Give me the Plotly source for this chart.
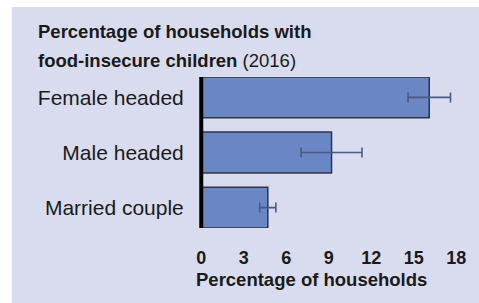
import plotly.graph_objects as go

categories = ["Female headed", "Male headed", "Married couple"]
values = [16.1, 9.2, 4.7]
errors = [1.5, 2.15, 0.57]
tick_vals = [0, 3, 6, 9, 12, 15, 18]

W, H = 479, 303
L, R, T, B = 197, 3, 77, 75
pw, ph = W - L - R, H - T - B

def px(x):
    return (x - L) / pw

def py(y):
    return (H - B - y) / ph

FONT = "Liberation Sans, Arial, sans-serif"
PANEL = "#d9dcee"

fig = go.Figure(go.Bar(
    y=categories, x=values, orientation="h",
    marker=dict(color="#6a86c5", line=dict(color="#2e3447", width=1.5)),
    error_x=dict(type="data", array=errors, visible=True, color="#4a5a82", thickness=1.6, width=5),
    width=0.74,
))

fig.update_layout(
    width=W, height=H,
    margin=dict(l=L, r=R, t=T, b=B),
    paper_bgcolor="white",
    plot_bgcolor="rgba(0,0,0,0)",
    showlegend=False,
    font=dict(family=FONT, color="#1a1a1a"),
    xaxis=dict(range=[-0.3, 19.4], tickvals=tick_vals, showgrid=False,
               zeroline=False, showline=False,
               ticks="outside", ticklen=13, tickcolor="rgba(0,0,0,0)",
               tickfont=dict(size=18, family=FONT, color="#1a1a1a", weight="bold")),
    yaxis=dict(categoryorder="array", categoryarray=categories, range=[2.37, -0.37],
               showgrid=False, zeroline=False, showline=False,
               ticks="outside", ticklen=8, tickcolor="rgba(0,0,0,0)",
               tickfont=dict(size=21, family=FONT, color="#1a1a1a")),
    shapes=[
        dict(type="rect", xref="paper", yref="paper", layer="below",
             x0=px(12), x1=px(W + 5), y0=py(H + 5), y1=py(7),
             fillcolor=PANEL, line=dict(width=0)),
        dict(type="line", xref="x", yref="paper", layer="above",
             x0=0, x1=0, y0=0, y1=1, line=dict(color="black", width=4)),
    ],
    annotations=[
        dict(text="<b>Percentage of households with</b>", xref="paper", yref="paper",
             x=px(36), y=py(31), xanchor="left", yanchor="middle", showarrow=False,
             font=dict(size=18.5, family=FONT, color="#1a1a1a")),
        dict(text="<b>food-insecure children</b> (2016)", xref="paper", yref="paper",
             x=px(36), y=py(60), xanchor="left", yanchor="middle", showarrow=False,
             font=dict(size=18.5, family=FONT, color="#1a1a1a")),
        dict(text="<b>Percentage of households</b>", xref="paper", yref="paper",
             x=px(194), y=py(279), xanchor="left", yanchor="middle", showarrow=False,
             font=dict(size=18.5, family=FONT, color="#1a1a1a")),
    ],
)

fig.write_html("out.html", config={"displayModeBar": False},
               post_script="document.body.style.margin='0';document.body.style.overflow='hidden';")
